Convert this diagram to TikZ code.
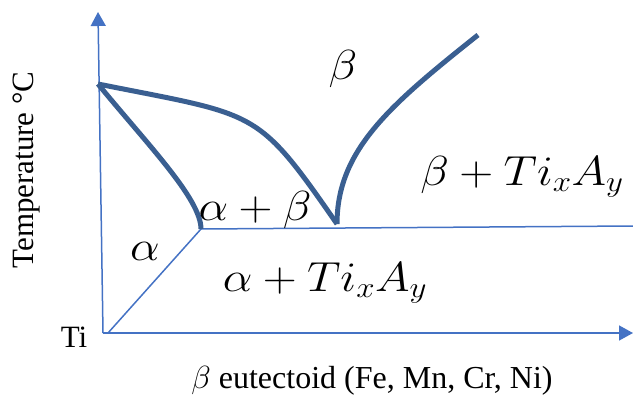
\RequirePackage{fix-cm}
\documentclass[tikz,border=0pt]{standalone}
\usepackage{fontspec}
\newfontfamily\timesfont{LiberationSerif-Regular.ttf}
\usetikzlibrary{arrows.meta}
\definecolor{axisblue}{RGB}{68,114,196}
\definecolor{curveblue}{RGB}{58,95,145}
\begin{document}
\begin{tikzpicture}[x=1pt,y=-1pt,
  axisline/.style={draw=axisblue, line width=1.5pt},
  axisarrow/.style={axisline, -{Triangle[width=15pt,length=14pt]}},
  phaseline/.style={draw=curveblue, line width=5pt},
  txt/.style={inner sep=0pt, font=\timesfont\fontsize{31}{37}\selectfont},
  mth/.style={inner sep=0pt, xscale=1.12, font=\fontsize{42}{50}\selectfont}]
\useasboundingbox (0,0) rectangle (633,399);
% key points
\coordinate (O) at (103,333);
\coordinate (ytip) at (98,12);
\coordinate (xtip) at (633,333);
\coordinate (Tm) at (98,84);
\coordinate (E) at (201,229);
\coordinate (D) at (108,333);
\coordinate (R) at (633,226);
\coordinate (C) at (337,224);
\coordinate (U) at (478,35);
% axes
\draw[axisarrow] (O) -- (ytip);
\draw[axisarrow] (O) -- (xtip);
% thin boundaries
\draw[axisline] (D) -- (E);
\draw[axisline] (E) -- (R);
% phase boundaries
\draw[phaseline] (Tm) .. controls (148,145) and (201,199) .. (E);
\draw[phaseline] (Tm) .. controls (258,116) and (256,107) .. (C);
\draw[phaseline] (C) .. controls (337,150) and (390,105) .. (U);
% labels
\node[txt, rotate=90] (ylab) at (26,170) {Temperature °C};
\node[txt] (ti) at (74,337) {Ti};
\node[txt, anchor=base, font=\timesfont\fontsize{32}{38}\selectfont] (xlab) at (372,388) {$\beta$ eutectoid (Fe, Mn, Cr, Ni)};
\node[mth, anchor=base] (beta) at (343,79) {$\beta$};
\node[mth, anchor=base] (betaTi) at (522,185) {$\beta+Ti_xA_y$};
\node[mth, anchor=base] (alphabeta) at (255,220) {$\alpha+\beta$};
\node[mth, anchor=base] (alpha) at (145,260) {$\alpha$};
\node[mth, anchor=base] (alphaTi) at (325,291) {$\alpha+Ti_xA_y$};
\end{tikzpicture}
\end{document}
